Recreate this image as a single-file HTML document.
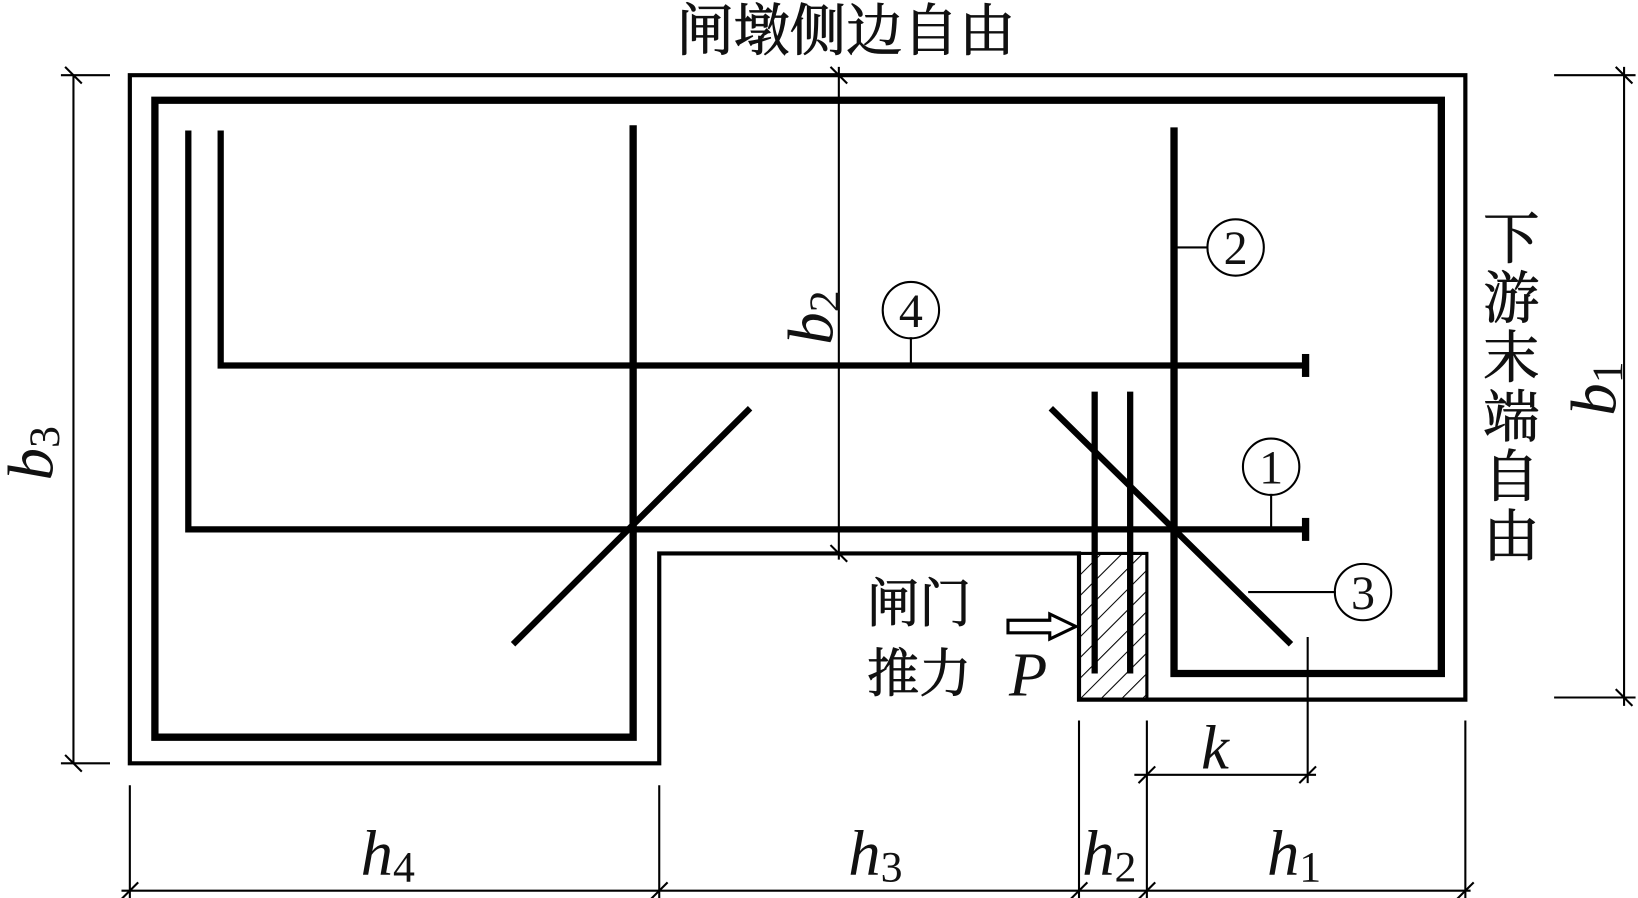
<!DOCTYPE html>
<html><head><meta charset="utf-8"><style>
html,body{margin:0;padding:0;background:#fff;}
svg{display:block}
.cj{font-family:"Liberation Serif","Noto Serif CJK SC","Noto Sans CJK SC",serif;fill:#111;stroke:#111;stroke-width:0.8}
.it{font-family:"Liberation Serif",serif;font-style:italic;fill:#111}
.sub{font-family:"Liberation Serif",serif;fill:#111}
</style></head><body>
<svg width="1638" height="898" viewBox="0 0 1568 860" xmlns="http://www.w3.org/2000/svg">
<defs>
<pattern id="h" width="14" height="14" patternUnits="userSpaceOnUse" patternTransform="rotate(45)">
<line x1="0" y1="0" x2="0" y2="14" stroke="#000" stroke-width="2"/>
</pattern>
</defs>
<g fill="none" stroke="#000" stroke-linecap="butt">
<path d="M124,72 H1403 V670 H1033 V530 H631 V731 H124 Z" stroke-width="4"/>
<path d="M606,120 V706 H148 V96 H1380 V645 H1124 V122" stroke-width="7"/>
<path d="M211,125 V350 H1250" stroke-width="6"/>
<line x1="1250" y1="339" x2="1250" y2="361" stroke-width="7"/>
<path d="M180,125 V507 H1250" stroke-width="6"/>
<line x1="1250" y1="496" x2="1250" y2="518" stroke-width="7"/>
<line x1="491" y1="617" x2="718" y2="391" stroke-width="6"/>
<line x1="1006" y1="391" x2="1236" y2="617" stroke-width="6"/>
<rect x="1033" y="530" width="65" height="140" fill="url(#h)" stroke-width="3"/>
<line x1="1048" y1="375" x2="1048" y2="645" stroke-width="6"/>
<line x1="1082" y1="375" x2="1082" y2="645" stroke-width="6"/>
<line x1="1124" y1="237" x2="1157" y2="237" stroke-width="2"/>
<circle cx="1183" cy="237" r="27" stroke-width="2"/>
<line x1="872" y1="323" x2="872" y2="350" stroke-width="2"/>
<circle cx="872" cy="297" r="27" stroke-width="2"/>
<line x1="1217" y1="473" x2="1217" y2="507" stroke-width="2"/>
<circle cx="1217" cy="447" r="27" stroke-width="2"/>
<line x1="1195" y1="567" x2="1279" y2="567" stroke-width="2"/>
<circle cx="1305" cy="567" r="27" stroke-width="2"/>
<g stroke-width="2">
<line x1="803" y1="64" x2="803" y2="536"/>
<line x1="795" y1="64" x2="811" y2="80"/><line x1="795" y1="522" x2="811" y2="538"/>
<line x1="70" y1="72" x2="70" y2="731"/>
<line x1="58" y1="72" x2="105" y2="72"/><line x1="58" y1="731" x2="105" y2="731"/>
<line x1="62" y1="64" x2="78" y2="80"/><line x1="62" y1="723" x2="78" y2="739"/>
<line x1="1555" y1="64" x2="1555" y2="676"/>
<line x1="1488" y1="72" x2="1566" y2="72"/><line x1="1488" y1="668" x2="1566" y2="668"/>
<line x1="1547" y1="64" x2="1563" y2="80"/><line x1="1547" y1="660" x2="1563" y2="676"/>
<line x1="116" y1="853" x2="1408" y2="853"/>
<line x1="124" y1="752" x2="124" y2="860"/>
<line x1="631" y1="752" x2="631" y2="860"/>
<line x1="1033" y1="690" x2="1033" y2="860"/>
<line x1="1098" y1="690" x2="1098" y2="860"/>
<line x1="1403" y1="690" x2="1403" y2="860"/>
<g><line x1="116" y1="861" x2="132" y2="845"/><line x1="623" y1="861" x2="639" y2="845"/><line x1="1025" y1="861" x2="1041" y2="845"/><line x1="1090" y1="861" x2="1106" y2="845"/><line x1="1395" y1="861" x2="1411" y2="845"/></g>
<line x1="1086" y1="742" x2="1260" y2="742"/>
<line x1="1252" y1="610" x2="1252" y2="750"/>
<line x1="1090" y1="750" x2="1106" y2="734"/><line x1="1244" y1="750" x2="1260" y2="734"/>
</g>
<path d="M965,594 H1005 V588 L1030,600 L1005,612 V606 H965 Z" stroke-width="3"/>
</g>
<g font-size="46" class="sub" text-anchor="middle">
<text x="1183" y="253">2</text><text x="872" y="313">4</text><text x="1217" y="463">1</text><text x="1305" y="583">3</text>
</g>
<text class="cj" x="810" y="48" font-size="54" text-anchor="middle">闸墩侧边自由</text>
<g class="cj" font-size="54" text-anchor="middle">
<text x="1447" y="247">下</text><text x="1447" y="304">游</text><text x="1447" y="361">末</text><text x="1447" y="418">端</text><text x="1447" y="475">自</text><text x="1447" y="532">由</text>
</g>
<text class="cj" x="880" y="595" font-size="50" text-anchor="middle">闸门</text>
<text class="cj" x="880" y="662" font-size="50" text-anchor="middle">推力</text>
<text class="it" x="966" y="666" font-size="60">P</text>
<text class="it" x="1150" y="736" font-size="60">k</text>
<g font-size="62">
<text class="it" x="345" y="838">h<tspan class="sub" font-style="normal" font-size="42" dy="6">4</tspan></text>
<text class="it" x="812" y="838">h<tspan class="sub" font-style="normal" font-size="42" dy="6">3</tspan></text>
<text class="it" x="1036" y="838">h<tspan class="sub" font-style="normal" font-size="42" dy="6">2</tspan></text>
<text class="it" x="1213" y="838">h<tspan class="sub" font-style="normal" font-size="42" dy="6">1</tspan></text>
<text class="it" transform="translate(797,330) rotate(-90)">b<tspan class="sub" font-style="normal" font-size="42" dy="6">2</tspan></text>
<text class="it" transform="translate(50,460) rotate(-90)">b<tspan class="sub" font-style="normal" font-size="42" dy="6">3</tspan></text>
<text class="it" transform="translate(1547,398) rotate(-90)">b<tspan class="sub" font-style="normal" font-size="42" dy="6">1</tspan></text>
</g>
</svg>
</body></html>
